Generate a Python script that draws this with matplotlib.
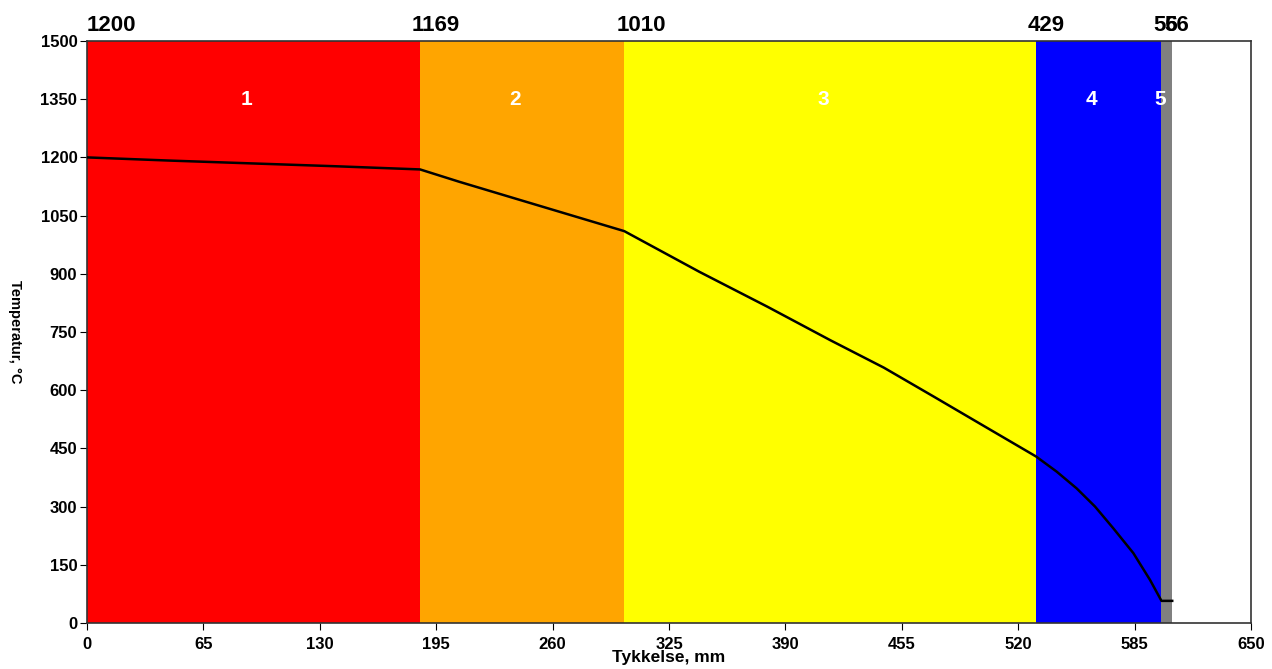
import matplotlib.pyplot as plt
import numpy as np

# layer boundaries (mm) and colours
boundaries = [0, 186, 300, 530, 600, 606]
layer_colors = ["#ff0000", "#ffa500", "#ffff00", "#0000ff", "#808080"]
layer_names = ["1", "2", "3", "4", "5"]
interface_temps = [1200, 1169, 1010, 429, 56, 56]

# temperature profile through the wall
thickness = [0, 45, 89, 140, 186, 208, 242, 300, 342, 380, 415, 445, 473, 500,
             530, 541.5, 552.6, 562.9, 573.1, 584.3, 593.6, 600, 606]
temperature = [1200, 1192, 1185, 1177, 1169, 1137, 1090, 1010, 905, 815, 729, 658,
               583, 510, 429, 390, 347, 300, 244, 180, 111, 57, 57]

plt.rcParams['font.family'] = ['Liberation Sans', 'DejaVu Sans']

fig = plt.figure(figsize=(12.72, 6.69), dpi=100)
ax = fig.add_axes([0.0684, 0.0688, 0.9151, 0.8699])

for i in range(len(layer_colors)):
    ax.axvspan(boundaries[i], boundaries[i + 1], color=layer_colors[i], lw=0, zorder=0)
    mid = (boundaries[i] + boundaries[i + 1]) / 2
    ax.annotate(layer_names[i], (mid, 1350), xytext=(-7, 0), textcoords='offset pixels',
                ha='center', va='center', color='white', fontsize=15, fontweight='bold')

for b, t in zip(boundaries, interface_temps):
    off = -8 if b > 0 else 0
    ax.annotate(str(t), (b, 1500), xytext=(off, 10), textcoords='offset pixels',
                ha='left', va='baseline', fontsize=16, fontweight='bold',
                annotation_clip=False)

ax.plot(thickness, temperature, color='black', lw=1.8, zorder=3)

ax.set_xlim(0, 650)
ax.set_ylim(0, 1500)
ax.set_xticks(range(0, 651, 65))
ax.set_yticks(range(0, 1501, 150))
ax.tick_params(axis='both', direction='out', length=5, labelsize=12, top=False, right=False)
ax.tick_params(axis='x', pad=5)
ax.tick_params(axis='y', pad=2)
for lab in ax.get_xticklabels() + ax.get_yticklabels():
    lab.set_fontweight('bold')

for s in ax.spines.values():
    s.set_color('#333333')
    s.set_linewidth(1.2)

ax.set_xlabel("Tykkelse, mm", fontsize=12.5, fontweight='bold')
ax.xaxis.set_label_coords(0.5, -0.047)
ax.set_ylabel("Temperatur, °C", fontsize=10.5, fontweight='bold', rotation=-90)
ax.yaxis.set_label_coords(-0.068, 0.5)

fig.savefig("out.png", dpi=100)
